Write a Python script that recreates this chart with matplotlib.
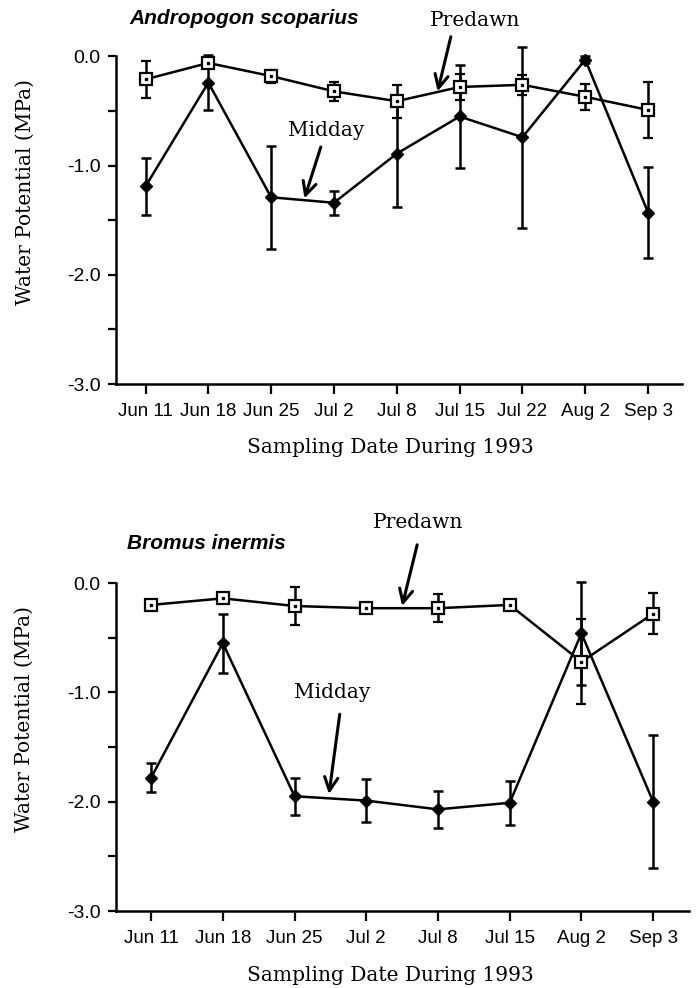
import numpy as np
import matplotlib
matplotlib.use("Agg")
import matplotlib.pyplot as plt

# Andropogon scoparius
dates_a = ['Jun 11', 'Jun 18', 'Jun 25', 'Jul 2', 'Jul 8', 'Jul 15', 'Jul 22', 'Aug 2', 'Sep 3']
predawn_a = [-0.21, -0.06, -0.18, -0.32, -0.41, -0.28, -0.26, -0.37, -0.49]
predawn_a_err = [0.17, 0.03, 0.06, 0.09, 0.15, 0.12, 0.09, 0.12, 0.26]
midday_a = [-1.19, -0.24, -1.29, -1.34, -0.89, -0.55, -0.74, -0.03, -1.43]
midday_a_err = [0.26, 0.25, 0.47, 0.11, 0.49, 0.47, 0.83, 0.03, 0.42]

# Bromus inermis
dates_b = ['Jun 11', 'Jun 18', 'Jun 25', 'Jul 2', 'Jul 8', 'Jul 15', 'Aug 2', 'Sep 3']
predawn_b = [-0.20, -0.14, -0.21, -0.23, -0.23, -0.20, -0.72, -0.28]
predawn_b_err = [0.03, 0.03, 0.17, 0.04, 0.13, 0.03, 0.39, 0.19]
midday_b = [-1.78, -0.55, -1.95, -1.99, -2.07, -2.01, -0.46, -2.00]
midday_b_err = [0.13, 0.27, 0.17, 0.20, 0.17, 0.20, 0.47, 0.61]

SERIF = 'DejaVu Serif'
SANS = 'Liberation Sans'

fig = plt.figure(figsize=(6.97, 9.88), dpi=100)
ax1 = fig.add_axes([0.1664, 0.6113, 0.8121, 0.3537])
ax2 = fig.add_axes([0.1664, 0.0779, 0.8221, 0.3541])


def panel(ax, dates, pre, pre_err, mid, mid_err, xlim):
    x = np.arange(len(dates))
    ax.errorbar(x, mid, yerr=mid_err, color='black', lw=1.8, marker='D', ms=6.5,
                capsize=3.5, capthick=1.8, elinewidth=1.8, zorder=3)
    ax.errorbar(x, pre, yerr=pre_err, color='black', lw=1.8, marker='s', ms=8,
                mfc='white', mec='black', mew=1.6,
                capsize=3.5, capthick=1.8, elinewidth=1.8, zorder=4)
    ax.plot(x, pre, ls='none', marker='s', ms=1.8, color='black', zorder=5)

    ax.set_xlim(*xlim)
    ax.set_ylim(-3, 0.2)
    for s in ['top', 'right']:
        ax.spines[s].set_visible(False)
    for s in ['left', 'bottom']:
        ax.spines[s].set_linewidth(1.8)
    ax.spines['left'].set_bounds(-3, 0)

    ax.set_xticks(x)
    ax.set_xticklabels(dates, fontfamily=SANS, fontsize=13.5)
    ax.set_yticks([0, -1, -2, -3])
    ax.set_yticklabels(['0.0', '-1.0', '-2.0', '-3.0'], fontfamily=SANS, fontsize=14)
    ax.set_yticks([-0.5, -1.5, -2.5], minor=True)
    ax.tick_params(axis='x', direction='out', length=7, width=1.6, pad=7)
    ax.tick_params(axis='y', which='both', direction='out', length=6, width=1.6, pad=5)
    return x


def arrow(ax, start, end):
    ax.annotate('', xy=end, xytext=start, annotation_clip=False,
                arrowprops=dict(arrowstyle='->', lw=2.2, color='black',
                                mutation_scale=24, shrinkA=0, shrinkB=0))


# top panel
panel(ax1, dates_a, predawn_a, predawn_a_err, midday_a, midday_a_err, (-0.47, 8.54))
ax1.text(-0.25, 0.35, 'Andropogon scoparius', fontfamily=SANS, fontsize=15,
         fontweight='bold', fontstyle='italic', ha='left', va='center')
ax1.text(-1.92, -1.24, 'Water Potential (MPa)', fontfamily=SERIF, fontsize=14.5,
         rotation=90, ha='center', va='center')
ax1.text(3.90, -3.585, 'Sampling Date During 1993', fontfamily=SERIF, fontsize=14.5,
         ha='center', va='center')
ax1.text(5.24, 0.325, 'Predawn', fontfamily=SERIF, fontsize=14.5, ha='center', va='center')
arrow(ax1, (4.86, 0.18), (4.65, -0.32))
ax1.text(2.88, -0.68, 'Midday', fontfamily=SERIF, fontsize=14.5, ha='center', va='center')
arrow(ax1, (2.79, -0.83), (2.53, -1.30))

# bottom panel
panel(ax2, dates_b, predawn_b, predawn_b_err, midday_b, midday_b_err, (-0.49, 7.5))
ax2.text(-0.34, 0.366, 'Bromus inermis', fontfamily=SANS, fontsize=15,
         fontweight='bold', fontstyle='italic', ha='left', va='center')
ax2.text(-1.77, -1.24, 'Water Potential (MPa)', fontfamily=SERIF, fontsize=14.5,
         rotation=90, ha='center', va='center')
ax2.text(3.34, -3.586, 'Sampling Date During 1993', fontfamily=SERIF, fontsize=14.5,
         ha='center', va='center')
ax2.text(3.72, 0.55, 'Predawn', fontfamily=SERIF, fontsize=14.5, ha='center', va='center')
arrow(ax2, (3.71, 0.35), (3.50, -0.21))
ax2.text(2.53, -1.0, 'Midday', fontfamily=SERIF, fontsize=14.5, ha='center', va='center')
arrow(ax2, (2.63, -1.20), (2.48, -1.93))

fig.savefig('out.png', dpi=100)
